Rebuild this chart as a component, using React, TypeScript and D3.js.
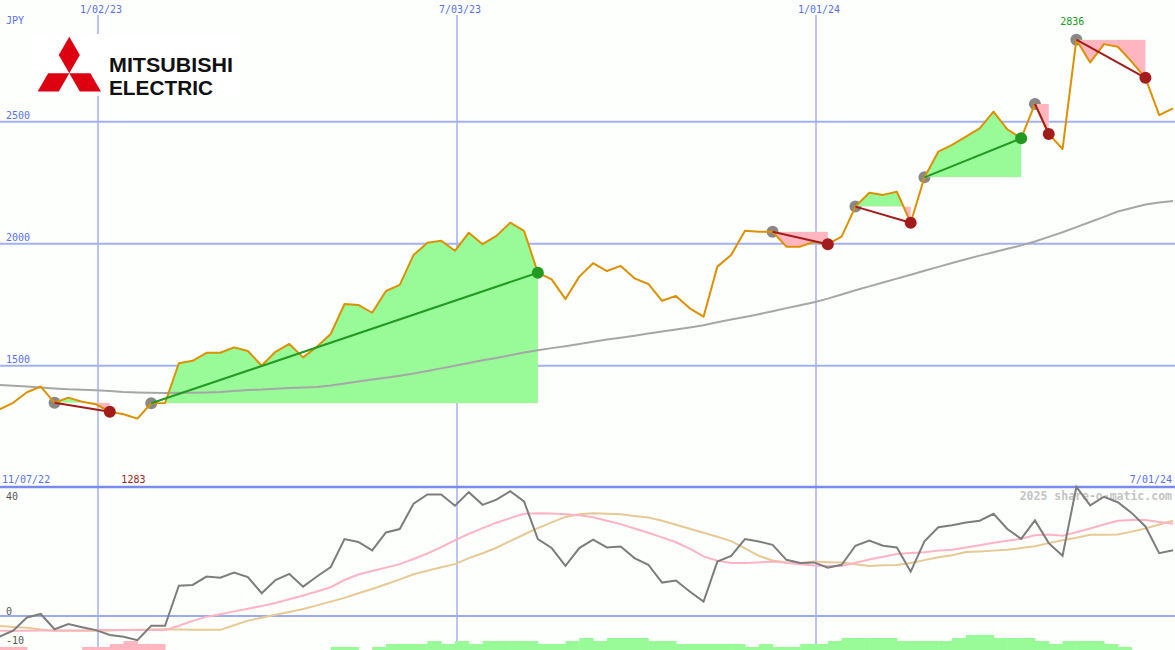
import React from 'react';
import * as d3 from 'd3';

const W = 1175;
const H = 650;

// weekly closes (JPY), first week ending 13 Nov 2022
const closes = [1321,1348,1391,1414,1348,1369,1352,1342,1311,1301,
 1283,1346,1347,1510,1520,1553,1553,1575,1560,1500,
 1557,1589,1534,1578,1630,1753,1749,1717,1806,1831,
 1954,2004,2012,1971,2045,1998,2032,2086,2053,1881,
 1854,1773,1865,1920,1888,1909,1858,1835,1766,1786,
 1735,1701,1906,1954,2053,2049,2049,1988,1988,2008,
 1998,2029,2152,2209,2200,2213,2086,2272,2377,2405,
 2439,2473,2541,2469,2432,2573,2450,2388,2836,2743,
 2818,2807,2746,2680,2527,2555];

// long moving average
const movingAvg = [1421,1418,1415,1411,1407,1403,1401,1399,1396,1392,
 1390,1389,1388,1389,1389,1390,1392,1396,1400,1402,
 1406,1409,1411,1413,1419,1427,1435,1443,1451,1459,
 1468,1478,1489,1500,1511,1522,1532,1543,1554,1563,
 1572,1580,1589,1598,1607,1615,1623,1632,1640,1648,
 1657,1666,1678,1689,1700,1711,1723,1736,1748,1760,
 1775,1792,1809,1825,1841,1857,1873,1889,1905,1921,
 1936,1951,1965,1979,1993,2009,2028,2047,2068,2089,
 2110,2132,2146,2161,2169,2175];

// lower panel oscillator
const oscillator = [-7.2,-5.1,-0.5,0.7,-4.6,-2.8,-3.9,-4.9,-6.6,-7.2,
 -8.4,-3.4,-3.4,10.5,10.8,13.7,13.3,15.1,13.5,7.9,
 12.5,14.6,10.2,13.7,17.0,26.7,25.7,22.8,29.0,30.2,
 39.0,42.2,42.2,38.3,43.0,38.6,40.4,43.3,39.8,26.7,
 23.6,17.4,23.6,26.5,23.8,24.1,20.1,17.8,11.6,12.3,
 8.5,5.0,18.9,20.9,26.7,25.9,24.7,19.5,18.4,18.6,
 16.8,17.8,24.4,26.2,24.4,23.8,15.4,25.9,30.8,31.5,
 32.5,33.1,35.5,30.2,26.8,33.2,25.3,20.9,44.8,38.4,
 41.4,39.5,35.8,31.1,21.8,22.8];

const oscFast = [-5.1,-5.1,-5.1,-5.0,-5.0,-5.0,-5.0,-4.9,-4.9,-4.9,
 -4.9,-4.9,-4.9,-3.4,-1.7,-0.3,0.6,1.6,2.5,3.5,
 4.5,5.8,7.1,8.5,10.0,12.5,14.4,15.6,16.8,18.0,
 19.8,21.7,23.9,26.3,28.5,30.5,32.4,34.0,35.5,35.7,
 35.6,35.3,35.0,34.3,33.1,31.9,30.4,28.9,27.3,25.6,
 23.4,20.7,19.2,18.4,18.4,18.6,18.9,18.5,18.0,17.5,
 17.4,17.4,18.5,19.6,20.6,21.5,21.9,22.1,22.7,23.0,
 23.8,24.6,25.4,26.1,26.8,28.0,28.3,27.9,29.1,30.4,
 31.8,33.1,33.3,33.3,32.6,32.0];

const oscSlow = [-3.5,-3.8,-4.1,-4.7,-5.1,-5.1,-5.1,-5.1,-5.0,-4.9,
 -4.8,-4.7,-4.6,-4.7,-4.8,-4.8,-4.8,-3.2,-1.6,-0.6,
 0.4,1.4,2.4,3.7,5.0,6.3,7.9,9.4,11.0,12.7,
 14.5,15.7,16.9,18.0,20.1,21.8,23.7,26.0,28.3,30.5,
 32.5,34.4,35.3,35.7,35.5,35.3,34.7,34.2,33.1,31.7,
 30.3,28.9,27.5,26.0,23.5,20.9,19.3,18.6,18.2,18.9,
 18.7,18.6,18.0,17.4,17.6,17.7,18.4,19.4,20.4,21.1,
 22.2,22.4,22.7,23.0,23.6,24.2,25.3,26.3,27.2,28.2,
 28.2,28.3,29.3,30.4,31.8,33.1];

// strength bars (negative = pink, positive = green)
const strength = [-1,-1,0,0,0,0,-1,-1,-2,-3,
 -2,-2,0,0,0,0,0,0,0,0,
 0,0,0,0,1,1,0,1,2,2,
 2,3,2,3,2,3,3,3,3,2,
 2,3,4,3,4,4,4,3,3,2,
 2,2,2,2,1,2,1,1,2,2,
 3,4,4,4,4,3,3,3,3,4,
 5,5,4,4,4,3,2,3,3,3,
 2,1,0,0,0,0];

// trend signals: start week index, end week index, direction
const signalStarts = [4, 11, 56, 62, 67, 75, 78];
const signalEnds = [8, 39, 60, 66, 74, 76, 83];
const signalUp = [false, true, false, false, true, false, false];

const priceTicks = [1500, 2000, 2500];
const oscTickLabels = [40, 0, -10];
const gridDates = ['2023-01-02', '2023-07-03', '2024-01-01'];
const domainStart = '2022-11-07';
const domainEnd = '2024-07-01';
const firstWeek = '2022-11-13';

const FONT = '"DejaVu Sans Mono", monospace';
const BLUE = '#5b6ff0';
const GRID = '#a3b1f2';

export default function App() {
  const dates = closes.map((_, i) => d3.utcDay.offset(new Date(firstWeek + 'T00:00:00Z'), i * 7));
  const x = d3.scaleUtc()
    .domain([new Date(domainStart + 'T00:00:00Z'), new Date(domainEnd + 'T00:00:00Z')])
    .range([-12.5, 1175]);
  const y = d3.scaleLinear().domain([2000, 2500]).range([243.7, 121.7]);
  const yo = d3.scaleLinear().domain([0, 40]).range([616, 500.8]);
  const yb = d3.scaleLinear().domain([0, 5]).range([650, 635]);
  const fmt = d3.utcFormat('%-m/%d/%y');
  const idx = closes.map((_, i) => i);

  const priceLine = d3.line<number>().x(i => x(dates[i])).y(i => y(closes[i]));
  const maLine = d3.line<number>().x(i => x(dates[i])).y(i => y(movingAvg[i]));
  const oscLine = (arr: number[]) => d3.line<number>().x(i => x(dates[i])).y(i => yo(arr[i]))(idx) || '';

  const minI = closes.indexOf(d3.min(closes) as number);
  const maxI = closes.indexOf(d3.max(closes) as number);
  const mainBottom = 487;

  const signals = signalStarts.map((s, j) => ({ s, e: signalEnds[j], up: signalUp[j] }));

  return (
    <svg width={W} height={H} style={{ position: 'absolute', left: 0, top: 0, background: '#fcfffc' }}>
      <rect x={0} y={0} width={W} height={H} fill="#fcfffc" />
      <defs>
        {signals.map((sg, j) => {
          const base = y(closes[sg.s]);
          return (
            <React.Fragment key={j}>
              <clipPath id={`above${j}`}><rect x={0} y={0} width={W} height={base} /></clipPath>
              <clipPath id={`below${j}`}><rect x={0} y={base} width={W} height={mainBottom - base} /></clipPath>
            </React.Fragment>
          );
        })}
      </defs>

      {/* vertical date grid */}
      {gridDates.map(d => {
        const gx = Math.round(x(new Date(d + 'T00:00:00Z')));
        return (
          <g key={d}>
            <line x1={gx} x2={gx} y1={15} y2={H} stroke={GRID} strokeWidth={1.5} />
            <text x={gx + 3} y={13} fontFamily={FONT} fontSize={10} fill={BLUE} textAnchor="middle">{fmt(new Date(d + 'T00:00:00Z'))}</text>
          </g>
        );
      })}

      {/* price grid */}
      {priceTicks.map(p => (
        <g key={p}>
          <line x1={0} x2={W} y1={y(p)} y2={y(p)} stroke={GRID} strokeWidth={2} />
          <text x={6} y={y(p) - 2.5} fontFamily={FONT} fontSize={10} fill={BLUE}>{p}</text>
        </g>
      ))}
      <text x={6} y={24} fontFamily={FONT} fontSize={10} fill={BLUE}>JPY</text>

      {/* logo */}
      <g>
        <rect x={32} y={34} width={208} height={62} fill="#ffffff" />
        {(() => {
          const cx = 69.3, cy = 73.3, s = 21.1, h = s * Math.sqrt(3) / 2;
          const top = [[cx, cy], [cx - s / 2, cy - h], [cx, cy - 2 * h], [cx + s / 2, cy - h]];
          const left = [[cx, cy], [cx - s, cy], [cx - s * 1.5, cy + h], [cx - s / 2, cy + h]];
          const right = [[cx, cy], [cx + s, cy], [cx + s * 1.5, cy + h], [cx + s / 2, cy + h]];
          return [top, left, right].map((pts, k) => (
            <polygon key={k} points={pts.map(p => p.join(',')).join(' ')} fill="#dc0011" />
          ));
        })()}
        <text x={109} y={71.5} fontFamily='"Liberation Sans", Arial, sans-serif' fontWeight="bold" fontSize={19.5}
          textLength={124} lengthAdjust="spacingAndGlyphs" fill="#111">MITSUBISHI</text>
        <text x={109} y={94.5} fontFamily='"Liberation Sans", Arial, sans-serif' fontWeight="bold" fontSize={19.5}
          textLength={104} lengthAdjust="spacingAndGlyphs" fill="#111">ELECTRIC</text>
      </g>

      {/* signal start markers */}
      {signals.map((sg, j) => (
        <circle key={j} cx={x(dates[sg.s])} cy={y(closes[sg.s])} r={6} fill="#888888" />
      ))}

      {/* signal fills */}
      {signals.map((sg, j) => {
        const pts = d3.range(sg.s, sg.e + 1);
        const area = d3.area<number>().x(i => x(dates[i])).y0(y(closes[sg.s])).y1(i => y(closes[i]))(pts) || '';
        return (
          <g key={j}>
            <path d={area} fill="#98fb98" clipPath={`url(#above${j})`} />
            <path d={area} fill="#ffb6c1" clipPath={`url(#below${j})`} />
          </g>
        );
      })}

      {/* moving average */}
      <path d={maLine(idx) || ''} fill="none" stroke="#a6a6a6" strokeWidth={2} />

      {/* price */}
      <path d={priceLine(idx) || ''} fill="none" stroke="#dd9000" strokeWidth={2} strokeLinejoin="round" />

      {/* trend lines and end markers */}
      {signals.map((sg, j) => (
        <line key={j} x1={x(dates[sg.s])} y1={y(closes[sg.s])} x2={x(dates[sg.e])} y2={y(closes[sg.e])}
          stroke={sg.up ? '#229922' : '#a31c1c'} strokeWidth={2} />
      ))}
      {signals.map((sg, j) => (
        <circle key={j} cx={x(dates[sg.e])} cy={y(closes[sg.e])} r={6} fill={sg.up ? '#229922' : '#a31c1c'} />
      ))}

      {/* extremes */}
      <text x={x(dates[maxI]) - 4} y={25} fontFamily={FONT} fontSize={10} fill="#229922" textAnchor="middle">{closes[maxI]}</text>
      <text x={x(dates[minI]) - 4} y={483} fontFamily={FONT} fontSize={10} fill="#a31c1c" textAnchor="middle">{closes[minI]}</text>
      <text x={2} y={483} fontFamily={FONT} fontSize={10} fill={BLUE}>{fmt(new Date(domainStart + 'T00:00:00Z'))}</text>
      <text x={1172} y={483} fontFamily={FONT} fontSize={10} fill={BLUE} textAnchor="end">{fmt(new Date(domainEnd + 'T00:00:00Z'))}</text>

      {/* separator */}
      <line x1={0} x2={W} y1={mainBottom} y2={mainBottom} stroke="#7a8aee" strokeWidth={2.5} />

      {/* lower panel */}
      <line x1={0} x2={W} y1={yo(0)} y2={yo(0)} stroke="#9babf0" strokeWidth={2} />
      {oscTickLabels.map(v => (
        <text key={v} x={6} y={yo(v) - 1} fontFamily={FONT} fontSize={10} fill="#555">{v}</text>
      ))}
      <text x={1172} y={500} fontFamily={FONT} fontSize={11.5} fontWeight="bold" fill="#c4c4c4" textAnchor="end">2025 share-o-matic.com</text>

      <path d={oscLine(oscSlow)} fill="none" stroke="#e6c994" strokeWidth={2} />
      <path d={oscLine(oscFast)} fill="none" stroke="#ffb3c4" strokeWidth={2} />
      <path d={oscLine(oscillator)} fill="none" stroke="#7d7d7d" strokeWidth={2} />

      {strength.map((v, i) => {
        if (v === 0) return null;
        const x0 = x(dates[i]);
        const x1 = x(d3.utcDay.offset(dates[i], 7));
        return (
          <rect key={i} x={x0} y={yb(Math.abs(v))} width={x1 - x0 + 0.5} height={H - yb(Math.abs(v))}
            fill={v > 0 ? '#98fb98' : '#ffb6c1'} />
        );
      })}
    </svg>
  );
}
